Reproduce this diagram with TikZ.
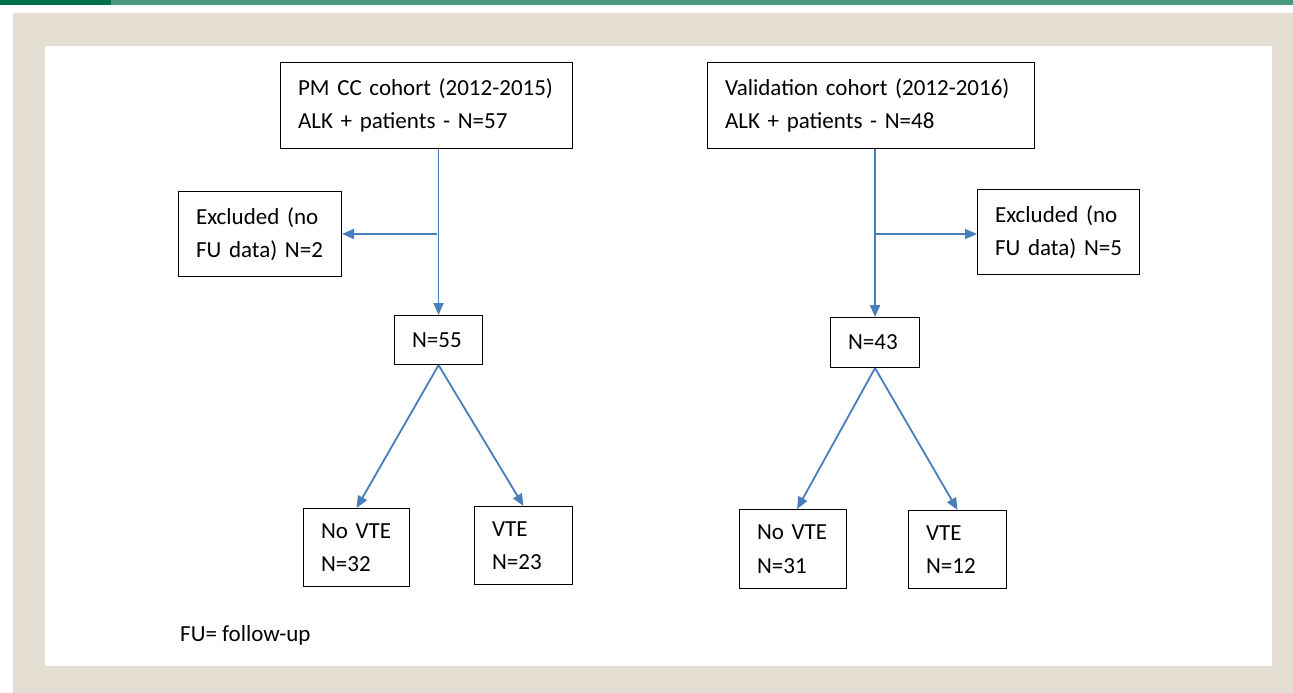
\documentclass[tikz,border=0pt]{standalone}
\usepackage{fontspec}
\setmainfont{Carlito}
\usetikzlibrary{arrows.meta,calc}
\definecolor{beige}{HTML}{E5DFD3}
\definecolor{dkgreen}{HTML}{00704A}
\definecolor{tealgreen}{HTML}{4A9B7E}
\definecolor{arrowblue}{HTML}{4A7EBB}
\newcommand\myfs{\fontsize{23pt}{33.5pt}\selectfont}
\newcommand\oneline[1]{\mbox{#1}}
\begin{document}
\begin{tikzpicture}[x=1pt,y=-1pt,
  box/.style={draw=black, line width=1.1pt, fill=white, font=\myfs, align=left,
    inner xsep=17.5pt, inner ysep=0pt, anchor=north west},
  conn/.style={draw=arrowblue, line width=1.8pt, -{Triangle[length=12pt,width=10pt]}}]
% background
\fill[white] (0,0) rectangle (1293,693);
\fill[beige] (13,13) rectangle (1293,693);
\fill[white] (45,46) rectangle (1272,666);
\fill[tealgreen] (0,0) rectangle (1293,5);
\fill[dkgreen] (0,0) rectangle (111,5);
\useasboundingbox (0,0) rectangle (1293,693);
% left cohort
\node[box, text width=257pt, minimum height=86pt] (b1) at (280,62)
  {\oneline{PM CC cohort (2012-2015)}\\\oneline{ALK + patients - N=57}};
\node[box, text width=128pt, minimum height=85pt] (e1) at (178,191)
  {\oneline{Excluded (no}\\\oneline{FU data) N=2}};
\node[box, text width=53pt, minimum height=49pt] (n55) at (394,315) {\oneline{N=55}};
\node[box, text width=71pt, minimum height=78pt] (nv1) at (303,508)
  {\oneline{No VTE}\\\oneline{N=32}};
\node[box, text width=63pt, minimum height=78pt] (v1) at (474,506)
  {\oneline{VTE}\\\oneline{N=23}};
% right cohort
\node[box, text width=292pt, minimum height=86pt] (b2) at (707,62)
  {\oneline{Validation cohort (2012-2016)}\\\oneline{ALK + patients - N=48}};
\node[box, text width=127pt, minimum height=85pt] (e2) at (977,189)
  {\oneline{Excluded (no}\\\oneline{FU data) N=5}};
\node[box, text width=54pt, minimum height=50pt] (n43) at (830,317) {\oneline{N=43}};
\node[box, text width=72pt, minimum height=79pt] (nv2) at (739,509)
  {\oneline{No VTE}\\\oneline{N=31}};
\node[box, text width=63pt, minimum height=78pt] (v2) at (908,510)
  {\oneline{VTE}\\\oneline{N=12}};
% footnote
\node[font=\myfs, anchor=west, inner sep=0pt] (fu) at (180,635) {FU= follow-up};
% connectors left
\coordinate (j1) at (437,234);
\draw[conn] (n55.north |- b1.south) -- (n55.north);
\draw[conn] (j1) -- (j1 -| e1.east);
\draw[conn] (n55.south) -- (nv1.north);
\draw[conn] (n55.south) -- (v1.north);
% connectors right
\coordinate (j2) at (874,234);
\draw[conn] (n43.north |- b2.south) -- (n43.north);
\draw[conn] (j2) -- (j2 -| e2.west);
\draw[conn] (n43.south) -- ([xshift=4pt]nv2.north);
\draw[conn] (n43.south) -- (v2.north);
\end{tikzpicture}
\end{document}
